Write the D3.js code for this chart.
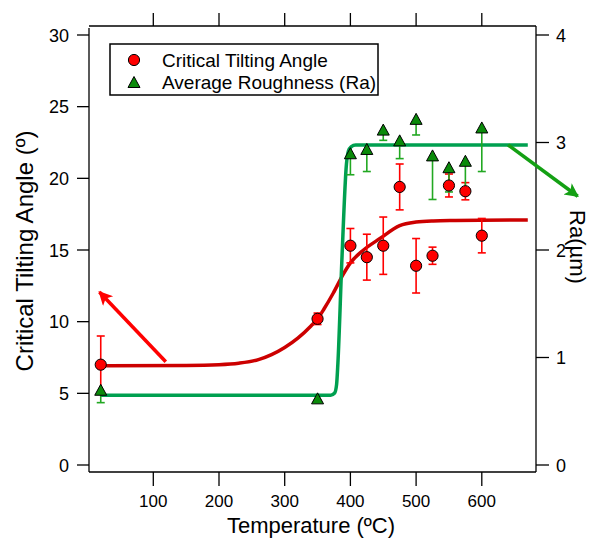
<!DOCTYPE html>
<html>
<head>
<meta charset="utf-8">
<script src="https://cdn.jsdelivr.net/npm/d3@7"></script>
<style>
  body { margin: 0; background: #fff; }
  svg { display: block; font-family: "Liberation Sans", Arial, sans-serif; }
</style>
</head>
<body>
<div id="chart"></div>
<script>
// temperatures (ºC)
const temps = [20, 350, 400, 425, 450, 475, 500, 525, 550, 575, 600];
// critical tilting angle (º) and its error
const angle = [7.0, 10.2, 15.3, 14.5, 15.3, 19.4, 13.9, 14.6, 19.5, 19.1, 16.0];
const angleErr = [2.0, 0.4, 1.2, 1.6, 2.0, 1.6, 1.9, 0.6, 0.8, 0.6, 1.2];
// average roughness Ra (µm) and its lower error
const ra = [0.70, 0.62, 2.90, 2.94, 3.12, 3.02, 3.22, 2.88, 2.77, 2.83, 3.14];
const raErr = [0.12, 0.02, 0.20, 0.21, 0.10, 0.17, 0.15, 0.41, 0.23, 0.31, 0.41];

// fitted curves
const angleFitT = [20, 150, 200, 230, 260, 280, 300, 320, 340, 350, 360, 374, 389, 400, 420, 445, 475, 500, 526, 560, 600, 670];
const angleFitV = [6.93, 6.95, 7.0, 7.1, 7.35, 7.7, 8.2, 8.85, 9.7, 10.2, 10.9, 12.0, 13.3, 14.1, 15.0, 15.8, 16.7, 16.95, 17.03, 17.06, 17.08, 17.1];
const raFitT = [20, 370, 376, 379, 381, 387, 394, 397, 401, 408, 670];
const raFitV = [0.65, 0.65, 0.67, 0.75, 0.95, 1.9, 2.8, 2.92, 2.96, 2.977, 2.977];

// axis ticks
const xTicks = [100, 200, 300, 400, 500, 600];
const leftTicks = [0, 5, 10, 15, 20, 25, 30];
const rightTicks = [0, 1, 2, 3, 4];

const width = 596, height = 539;
const frame = { left: 89, right: 536, top: 26, bottom: 472 };

const x = d3.scaleLinear().domain([0, 700]).range([87.6, 87.6 + 0.657 * 700]);
const yL = d3.scaleLinear().domain([0, 30]).range([465, 35]);
const yR = d3.scaleLinear().domain([0, 4]).range([465, 35]);

const red = "#ff0000", redFit = "#cc0000";
const green = "#0a8a0a", greenBar = "#22a822", greenFit = "#00a050", greenArrow = "#14a014";

const svg = d3.select("#chart").append("svg")
  .attr("width", width).attr("height", height);

svg.append("defs").selectAll("marker")
  .data([["ar-red", red], ["ar-green", greenArrow]])
  .enter().append("marker")
  .attr("id", d => d[0])
  .attr("viewBox", "0 0 10 10")
  .attr("refX", 9).attr("refY", 5)
  .attr("markerUnits", "userSpaceOnUse")
  .attr("markerWidth", 17).attr("markerHeight", 14)
  .attr("orient", "auto")
  .append("path")
  .attr("d", "M0,0 L10,5 L0,10 L2.5,5 Z")
  .attr("fill", d => d[1]);

// frame
const axisColor = "#000";
svg.append("line").attr("x1", frame.left).attr("x2", frame.right)
  .attr("y1", frame.top).attr("y2", frame.top).attr("stroke", axisColor).attr("stroke-width", 1.3);
svg.append("line").attr("x1", frame.left).attr("x2", frame.right)
  .attr("y1", frame.bottom).attr("y2", frame.bottom).attr("stroke", axisColor).attr("stroke-width", 1.3);
svg.append("line").attr("x1", frame.left).attr("x2", frame.left)
  .attr("y1", frame.top + 2).attr("y2", frame.bottom).attr("stroke", axisColor).attr("stroke-width", 1.3);
svg.append("line").attr("x1", frame.right).attr("x2", frame.right)
  .attr("y1", frame.top).attr("y2", frame.bottom).attr("stroke", axisColor).attr("stroke-width", 1.3);

// bottom axis
svg.append("g").selectAll("line").data(xTicks).enter().append("line")
  .attr("x1", d => x(d)).attr("x2", d => x(d))
  .attr("y1", frame.bottom).attr("y2", frame.bottom + 14)
  .attr("stroke", axisColor).attr("stroke-width", 1.3);
svg.append("g").selectAll("text").data(xTicks).enter().append("text")
  .attr("x", d => x(d)).attr("y", 507)
  .attr("text-anchor", "middle").attr("font-size", 17)
  .text(d => d);
// top axis (ticks only)
svg.append("g").selectAll("line").data(xTicks).enter().append("line")
  .attr("x1", d => x(d)).attr("x2", d => x(d))
  .attr("y1", frame.top).attr("y2", frame.top - 13)
  .attr("stroke", axisColor).attr("stroke-width", 1.3);

// left axis
svg.append("g").selectAll("line").data(leftTicks).enter().append("line")
  .attr("x1", frame.left - 12).attr("x2", frame.left)
  .attr("y1", d => yL(d)).attr("y2", d => yL(d))
  .attr("stroke", axisColor).attr("stroke-width", 1.3);
svg.append("g").selectAll("text").data(leftTicks).enter().append("text")
  .attr("x", 69).attr("y", d => yL(d) + 6.5)
  .attr("text-anchor", "end").attr("font-size", 18)
  .text(d => d);

// right axis
svg.append("g").selectAll("line").data(rightTicks).enter().append("line")
  .attr("x1", frame.right).attr("x2", frame.right + 13)
  .attr("y1", d => yR(d)).attr("y2", d => yR(d))
  .attr("stroke", axisColor).attr("stroke-width", 1.3);
svg.append("g").selectAll("text").data(rightTicks).enter().append("text")
  .attr("x", 556).attr("y", d => yR(d) + 6.5)
  .attr("text-anchor", "start").attr("font-size", 18)
  .text(d => d);

// axis titles
svg.append("text").attr("x", 311).attr("y", 533)
  .attr("text-anchor", "middle").attr("font-size", 22)
  .text("Temperature (ºC)");
svg.append("text")
  .attr("transform", "translate(33,251) rotate(-90)")
  .attr("text-anchor", "middle").attr("font-size", 24)
  .text("Critical Tilting Angle (º)");
svg.append("text")
  .attr("transform", "translate(570,247) rotate(90)")
  .attr("text-anchor", "middle").attr("font-size", 22)
  .text("Ra(µm)");

// fit curves
const angleFit = angleFitT.map((t, i) => [t, angleFitV[i]]);
const raFit = raFitT.map((t, i) => [t, raFitV[i]]);

svg.append("path").datum(angleFit)
  .attr("d", d3.line().curve(d3.curveMonotoneX).x(d => x(d[0])).y(d => yL(d[1])))
  .attr("fill", "none").attr("stroke", redFit).attr("stroke-width", 3.5);
svg.append("path").datum(raFit)
  .attr("d", d3.line().curve(d3.curveMonotoneX).x(d => x(d[0])).y(d => yR(d[1])))
  .attr("fill", "none").attr("stroke", greenFit).attr("stroke-width", 3.5);

// annotation arrows (data units)
const redArrow = [[119, 7.2], [18, 12.07]];
const greenArrowPts = [[640, 2.977], [746, 2.50]];
svg.append("line")
  .attr("x1", x(redArrow[0][0])).attr("y1", yL(redArrow[0][1]))
  .attr("x2", x(redArrow[1][0])).attr("y2", yL(redArrow[1][1]))
  .attr("stroke", red).attr("stroke-width", 3.5)
  .attr("marker-end", "url(#ar-red)");
svg.append("line")
  .attr("x1", x(greenArrowPts[0][0])).attr("y1", yR(greenArrowPts[0][1]))
  .attr("x2", x(greenArrowPts[1][0])).attr("y2", yR(greenArrowPts[1][1]))
  .attr("stroke", greenArrow).attr("stroke-width", 3.5)
  .attr("marker-end", "url(#ar-green)");

// error bars
const cap = 4;
const redBars = svg.append("g").attr("stroke", red).attr("stroke-width", 1.6);
temps.forEach((t, i) => {
  const cx = x(t), y1 = yL(angle[i] + angleErr[i]), y2 = yL(angle[i] - angleErr[i]);
  redBars.append("line").attr("x1", cx).attr("x2", cx).attr("y1", y1).attr("y2", y2);
  redBars.append("line").attr("x1", cx - cap).attr("x2", cx + cap).attr("y1", y1).attr("y2", y1);
  redBars.append("line").attr("x1", cx - cap).attr("x2", cx + cap).attr("y1", y2).attr("y2", y2);
});
const greenBars = svg.append("g").attr("stroke", greenBar).attr("stroke-width", 1.6);
temps.forEach((t, i) => {
  const cx = x(t), y1 = yR(ra[i]), y2 = yR(ra[i] - raErr[i]);
  greenBars.append("line").attr("x1", cx).attr("x2", cx).attr("y1", y1).attr("y2", y2);
  greenBars.append("line").attr("x1", cx - cap).attr("x2", cx + cap).attr("y1", y2).attr("y2", y2);
});

// markers
const tri = "M0,-5.5 L6,5.5 L-6,5.5 Z";
svg.append("g").selectAll("circle").data(temps).enter().append("circle")
  .attr("cx", d => x(d)).attr("cy", (d, i) => yL(angle[i])).attr("r", 5.6)
  .attr("fill", red).attr("stroke", "#000").attr("stroke-width", 1);
svg.append("g").selectAll("path").data(temps).enter().append("path")
  .attr("d", tri)
  .attr("transform", (d, i) => `translate(${x(d)},${yR(ra[i])})`)
  .attr("fill", green).attr("stroke", "#000").attr("stroke-width", 1);

// legend
const legend = svg.append("g");
legend.append("circle").attr("cx", 134).attr("cy", 60).attr("r", 5.6)
  .attr("fill", red).attr("stroke", "#000").attr("stroke-width", 1);
legend.append("path").attr("d", tri).attr("transform", "translate(134,82)")
  .attr("fill", green).attr("stroke", "#000").attr("stroke-width", 1);
legend.append("text").attr("x", 162).attr("y", 67).attr("font-size", 19)
  .text("Critical Tilting Angle");
legend.append("text").attr("x", 162).attr("y", 89).attr("font-size", 19)
  .text("Average Roughness (Ra)");
legend.append("rect").attr("x", 110).attr("y", 44).attr("width", 268).attr("height", 51)
  .attr("fill", "none").attr("stroke", "#000").attr("stroke-width", 1.5);
</script>
</body>
</html>
